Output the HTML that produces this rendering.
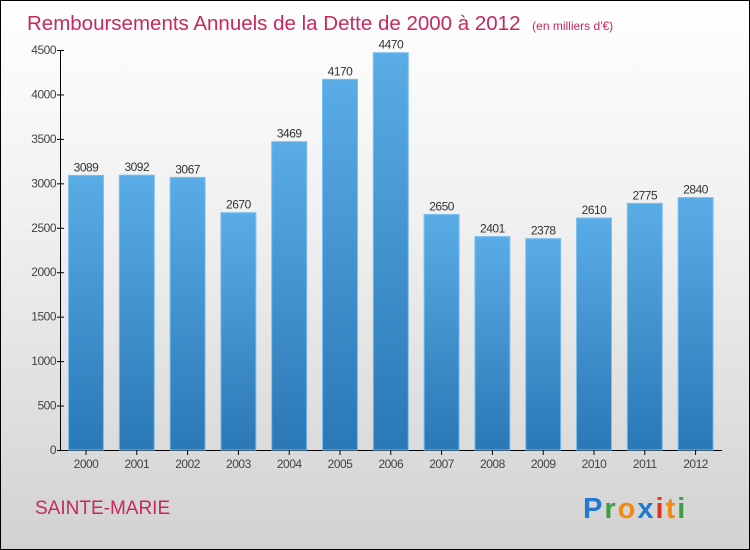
<!DOCTYPE html>
<html><head><meta charset="utf-8"><style>
body{margin:0}
#c{position:relative;width:748px;height:548px;border:1px solid #000;background:linear-gradient(#ffffff,#f0f0f0 40%,#d2d2d2);font-family:"Liberation Sans",sans-serif;overflow:hidden}
</style></head><body>
<div id="c">
<svg width="748" height="548" style="position:absolute;left:0;top:0" id="svg">
<defs><linearGradient id="bg" x1="0" y1="0" x2="0" y2="1"><stop offset="0" stop-color="#5aace6"/><stop offset="1" stop-color="#2a78b6"/></linearGradient></defs>
<text x="26" y="29" font-size="20.5" fill="#c8285e">Remboursements Annuels de la Dette de 2000 à 2012 <tspan font-size="12" dx="6">(en milliers d'€)</tspan></text>
<text x="34" y="513" font-size="19" fill="#c8285e">SAINTE-MARIE</text>
<g font-size="29" font-weight="bold" letter-spacing="2"><text x="582" y="517"><tspan fill="#1f7ad0">P</tspan><tspan fill="#3aa040">r</tspan><tspan fill="#f08a10">o</tspan><tspan fill="#1f7ad0">x</tspan><tspan fill="#e03020">i</tspan><tspan fill="#f08a10">t</tspan><tspan fill="#3aa040">i</tspan></text></g>
<g id="plot"></g>
</svg>
</div>
<script>
const years=["2000","2001","2002","2003","2004","2005","2006","2007","2008","2009","2010","2011","2012"];
const values=[3089,3092,3067,2670,3469,4170,4470,2650,2401,2378,2610,2775,2840];
const ticks=[0,500,1000,1500,2000,2500,3000,3500,4000,4500];
const ns="http://www.w3.org/2000/svg";
const g=document.getElementById('plot');
const y=v=>449-v*400/4500;
const x=i=>85+i*50.8;
function mk(t,a,txt){const e=document.createElementNS(ns,t);for(const k in a)e.setAttribute(k,a[k]);if(txt!=null)e.textContent=txt;g.appendChild(e);return e;}
let ax=mk('line',{x1:59.5,y1:y(4500),x2:59.5,y2:449.5,stroke:'#000'});


let xa=mk('line',{x1:59.5,y1:449.5,x2:721,y2:449.5,stroke:'#000'});


ticks.forEach(t=>{
 let l=mk('line',{x1:56,x2:63,y1:y(t)+.5,y2:y(t)+.5,stroke:'#000'});
 
 
 let tx=mk('text',{x:55,y:y(t)+4,'font-size':12,fill:'#444','text-anchor':'end','letter-spacing':'-0.5'},t);
 
 
});
values.forEach((v,i)=>{
 let r=mk('rect',{x:x(i)-17.5,y:y(v),width:35,height:449-y(v),fill:'url(#bg)',stroke:'#7cc0ee','stroke-width':1});
 
 
 let t=mk('text',{x:x(i),y:y(v)-4,'font-size':12,fill:'#333','text-anchor':'middle','letter-spacing':'-0.5'},v);
 
 
 let tk=mk('line',{x1:x(i),x2:x(i),y1:449,y2:454,stroke:'#000'});
 
 
 let yl=mk('text',{x:x(i),y:467,'font-size':12,fill:'#444','text-anchor':'middle','letter-spacing':'-0.5'},years[i]);
 
 
});
</script>
</body></html>
